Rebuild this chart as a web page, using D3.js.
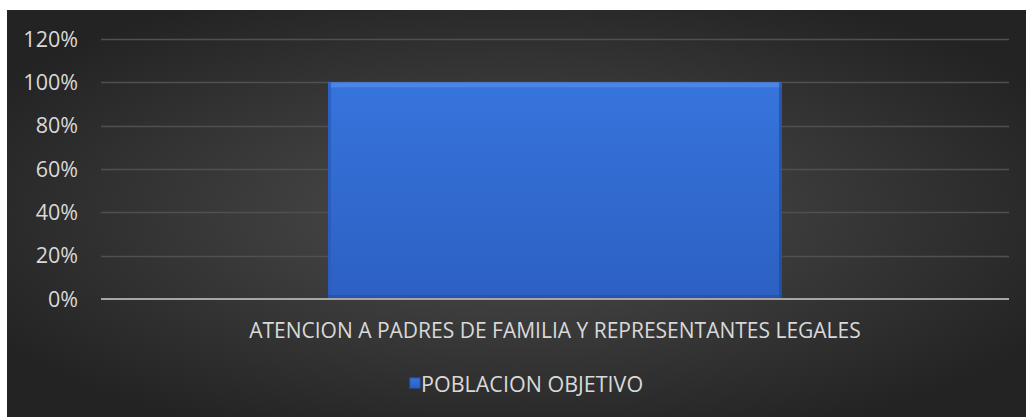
<!DOCTYPE html>
<html>
<head>
<meta charset="utf-8">
<script src="https://cdn.jsdelivr.net/npm/d3@7"></script>
<style>
  body { margin: 0; background: #fff; }
  text { font-family: "Open Sans", sans-serif; }
</style>
</head>
<body>
<script>
var width = 1026, height = 417;

// data
var categories = ["ATENCION A PADRES DE FAMILIA Y REPRESENTANTES LEGALES"];
var seriesName = "POBLACION OBJETIVO";
var values = [1.0];
var yTicks = [0, 0.2, 0.4, 0.6, 0.8, 1.0, 1.2];

var margin = {top: 39, right: 17, bottom: 118, left: 101}; // plot area

var svg = d3.select("body").append("svg")
    .attr("width", width)
    .attr("height", height);

var defs = svg.append("defs");

var bg = defs.append("radialGradient")
    .attr("id", "bg")
    .attr("cx", "50%").attr("cy", "50%").attr("r", "60%");
bg.append("stop").attr("offset", "0%").attr("stop-color", "#4e4e4e");
bg.append("stop").attr("offset", "100%").attr("stop-color", "#232323");

var barGrad = defs.append("linearGradient")
    .attr("id", "barGrad")
    .attr("x1", 0).attr("y1", 0).attr("x2", 0).attr("y2", 1);
barGrad.append("stop").attr("offset", "0%").attr("stop-color", "#3674dc");
barGrad.append("stop").attr("offset", "100%").attr("stop-color", "#2d60c2");

// chart background
svg.append("rect")
    .attr("x", 7).attr("y", 10)
    .attr("width", width - 7).attr("height", height - 10)
    .attr("fill", "url(#bg)");

var x = d3.scaleBand()
    .domain(categories)
    .range([margin.left, width - margin.right])
    .paddingInner(0.5)
    .paddingOuter(0.25);

var y = d3.scaleLinear()
    .domain([0, 1.2])
    .range([height - margin.bottom, margin.top]);

// gridlines
svg.append("g")
  .selectAll("line")
  .data(yTicks.filter(function(d) { return d > 0; }))
  .enter().append("line")
  .attr("x1", margin.left)
  .attr("x2", width - margin.right)
  .attr("y1", function(d) { return Math.round(y(d)) + 0.5; })
  .attr("y2", function(d) { return Math.round(y(d)) + 0.5; })
  .attr("stroke", "#505050")
  .attr("stroke-width", 1.5);

// y tick labels
svg.append("g")
  .selectAll("text")
  .data(yTicks)
  .enter().append("text")
  .attr("x", 78)
  .attr("y", function(d) { return y(d); })
  .attr("text-anchor", "end")
  .attr("dy", "0.36em")
  .attr("fill", "#d9d9d9")
  .attr("font-size", 21.5)
  .text(function(d) { return d3.format(".0%")(d); });

// bars
var bars = svg.append("g")
  .selectAll("g")
  .data(values)
  .enter().append("g");

bars.append("rect")
  .attr("x", function(d, i) { return x(categories[i]); })
  .attr("y", function(d) { return y(d); })
  .attr("width", x.bandwidth())
  .attr("height", function(d) { return y(0) - y(d); })
  .attr("fill", "url(#barGrad)");

// bevel: light top, dark sides/bottom
bars.append("rect")
  .attr("x", function(d, i) { return x(categories[i]); })
  .attr("y", function(d) { return y(d); })
  .attr("width", x.bandwidth())
  .attr("height", 5)
  .attr("fill", "#5b8ff0")
  .attr("opacity", 0.6);
bars.append("rect")
  .attr("x", function(d, i) { return x(categories[i]) + x.bandwidth() - 3; })
  .attr("y", function(d) { return y(d); })
  .attr("width", 3)
  .attr("height", function(d) { return y(0) - y(d); })
  .attr("fill", "#1d4590")
  .attr("opacity", 0.6);
bars.append("rect")
  .attr("x", function(d, i) { return x(categories[i]); })
  .attr("y", function(d) { return y(d); })
  .attr("width", 3)
  .attr("height", function(d) { return y(0) - y(d); })
  .attr("fill", "#2a5bbd")
  .attr("opacity", 0.8);
bars.append("rect")
  .attr("x", function(d, i) { return x(categories[i]); })
  .attr("y", function(d) { return y(0) - 4; })
  .attr("width", x.bandwidth())
  .attr("height", 4)
  .attr("fill", "#234f9e")
  .attr("opacity", 0.6);

// axis line
svg.append("line")
  .attr("x1", margin.left)
  .attr("x2", width - margin.right)
  .attr("y1", y(0))
  .attr("y2", y(0))
  .attr("stroke", "#a6a6a6")
  .attr("stroke-width", 2);

// category labels
svg.append("g")
  .selectAll("text")
  .data(categories)
  .enter().append("text")
  .attr("x", function(d) { return x(d) + x.bandwidth() / 2; })
  .attr("y", 330)
  .attr("dy", "0.36em")
  .attr("text-anchor", "middle")
  .attr("fill", "#d9d9d9")
  .attr("font-size", 21)
  .text(function(d) { return d; });

// legend
var legend = svg.append("g");
legend.append("rect")
  .attr("x", 410).attr("y", 378)
  .attr("width", 10).attr("height", 10)
  .attr("fill", "url(#barGrad)")
  .attr("stroke", "#2a5bbd");
legend.append("text")
  .attr("x", 421)
  .attr("y", 384)
  .attr("dy", "0.36em")
  .attr("fill", "#d9d9d9")
  .attr("font-size", 21.5)
  .text(seriesName);
</script>
</body>
</html>
